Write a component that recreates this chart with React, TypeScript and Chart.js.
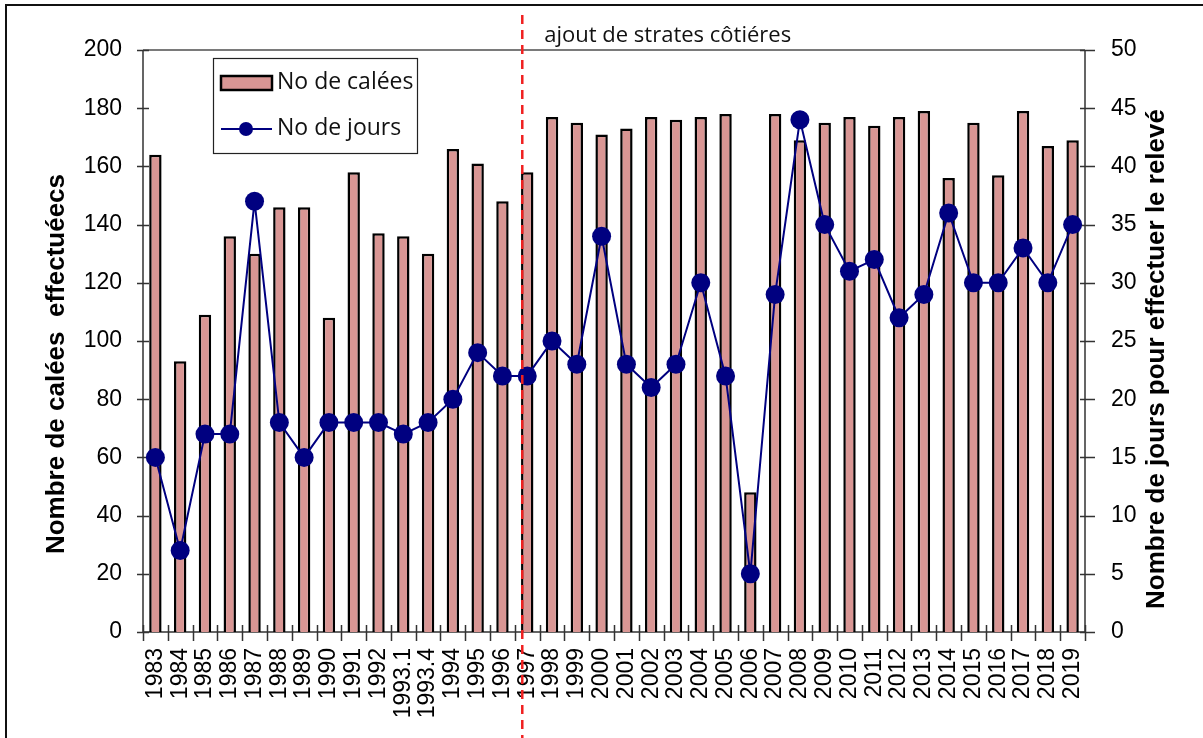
import { useEffect, useRef } from "react";
import { Chart, registerables } from "chart.js";

Chart.register(...registerables);

const categories = [
  "1983", "1984", "1985", "1986", "1987", "1988", "1989", "1990", "1991", "1992",
  "1993.1", "1993.4", "1994", "1995", "1996", "1997", "1998", "1999", "2000", "2001",
  "2002", "2003", "2004", "2005", "2006", "2007", "2008", "2009", "2010", "2011",
  "2012", "2013", "2014", "2015", "2016", "2017", "2018", "2019",
];

const caleesValues = [
  164, 93, 109, 136, 130, 146, 146, 108, 158, 137,
  136, 130, 166, 161, 148, 158, 177, 175, 171, 173,
  177, 176, 177, 178, 48, 178, 169, 175, 177, 174,
  177, 179, 156, 175, 157, 179, 167, 169,
];

const joursValues = [
  15, 7, 17, 17, 37, 18, 15, 18, 18, 18,
  17, 18, 20, 24, 22, 22, 25, 23, 34, 23,
  21, 23, 30, 22, 5, 29, 44, 35, 31, 32,
  27, 29, 36, 30, 30, 33, 30, 35,
];

const leftAxisRange = [0, 200];
const leftAxisStep = 20;
const rightAxisRange = [0, 50];
const rightAxisStep = 5;

const barLabel = "No de calées";
const lineLabel = "No de jours";
const leftTitle = "Nombre de calées  effectuéecs";
const rightTitle = "Nombre de jours pour effectuer le relevé";
const annotationText = "ajout de strates côtiéres";
const annotationIndex = 14.8;

const BAR_FILL = "#D99694";
const LINE_COLOR = "#000080";
const TICK_FONT = "'Liberation Sans', Arial, sans-serif";
const NARROW_FONT = "'Liberation Sans Narrow', 'Liberation Sans', Arial, sans-serif";
const LEGEND_FONT = "'Open Sans', 'Noto Sans', sans-serif";

const decorPlugin = {
  id: "decor",
  beforeDatasetsDraw(chart: any) {
    const { ctx, chartArea: a, scales } = chart;
    const w = chart.width;
    const h = chart.height;
    ctx.save();
    // outer frame (left + top)
    ctx.strokeStyle = "#111";
    ctx.lineWidth = 2;
    ctx.beginPath();
    ctx.moveTo(6, h);
    ctx.lineTo(6, 5);
    ctx.lineTo(w, 5);
    ctx.stroke();

    // top border of plot
    ctx.strokeStyle = "#7a7a7a";
    ctx.lineWidth = 2;
    ctx.beginPath();
    ctx.moveTo(a.left, a.top);
    ctx.lineTo(a.right, a.top);
    ctx.stroke();

    // axes
    ctx.strokeStyle = "#333";
    ctx.lineWidth = 1.5;
    ctx.beginPath();
    ctx.moveTo(a.left, a.top);
    ctx.lineTo(a.left, a.bottom);
    ctx.lineTo(a.right, a.bottom);
    ctx.lineTo(a.right, a.top);
    ctx.stroke();

    // ticks
    ctx.beginPath();
    for (const t of scales.y.ticks) {
      const y = Math.round(scales.y.getPixelForValue(t.value)) + 0.5;
      ctx.moveTo(a.left - 6, y);
      ctx.lineTo(a.left + 6, y);
    }
    for (const t of scales.y1.ticks) {
      const y = Math.round(scales.y1.getPixelForValue(t.value)) + 0.5;
      ctx.moveTo(a.right - 5, y);
      ctx.lineTo(a.right + 10, y);
    }
    for (let i = 0; i <= categories.length; i++) {
      const x = Math.round(scales.x.getPixelForValue(i - 0.5)) + 0.5;
      ctx.moveTo(x, a.bottom - 7);
      ctx.lineTo(x, a.bottom + 9);
    }
    ctx.stroke();
    ctx.restore();
  },
  afterDatasetsDraw(chart: any) {
    const { ctx, chartArea: a, scales } = chart;
    ctx.save();
    const x = scales.x.getPixelForValue(annotationIndex);
    ctx.strokeStyle = "#F02020";
    ctx.lineWidth = 2.5;
    ctx.setLineDash([9, 6]);
    ctx.beginPath();
    ctx.moveTo(x, 15);
    ctx.lineTo(x, chart.height);
    ctx.stroke();
    ctx.setLineDash([]);
    ctx.fillStyle = "#111";
    ctx.font = `22px ${LEGEND_FONT}`;
    ctx.textAlign = "left";
    ctx.textBaseline = "middle";
    ctx.fillText(annotationText, x + 22, a.top - 14);
    ctx.restore();
  },
  afterDraw(chart: any) {
    const { ctx, chartArea: a } = chart;
    ctx.save();
    // legend
    const lx = a.left + 70;
    const ly = a.top + 8;
    ctx.fillStyle = "#fff";
    ctx.fillRect(lx, ly, 204, 95);
    ctx.strokeStyle = "#222";
    ctx.lineWidth = 1.2;
    ctx.strokeRect(lx + 0.5, ly + 0.5, 204, 95);
    ctx.fillStyle = BAR_FILL;
    ctx.fillRect(lx + 8, ly + 18, 51, 14);
    ctx.strokeStyle = "#000";
    ctx.lineWidth = 2.5;
    ctx.strokeRect(lx + 8, ly + 18, 51, 14);
    ctx.strokeStyle = LINE_COLOR;
    ctx.lineWidth = 2;
    ctx.beginPath();
    ctx.moveTo(lx + 8, ly + 71);
    ctx.lineTo(lx + 59, ly + 71);
    ctx.stroke();
    ctx.fillStyle = LINE_COLOR;
    ctx.beginPath();
    ctx.arc(lx + 33, ly + 71, 7, 0, Math.PI * 2);
    ctx.fill();
    ctx.fillStyle = "#111";
    ctx.font = `23px ${LEGEND_FONT}`;
    ctx.textAlign = "left";
    ctx.textBaseline = "middle";
    ctx.fillText(barLabel, lx + 64, ly + 24);
    ctx.fillText(lineLabel, lx + 64, ly + 70);

    // axis titles
    ctx.fillStyle = "#000";
    ctx.font = `bold 26px ${TICK_FONT}`;
    ctx.textAlign = "center";
    ctx.textBaseline = "middle";
    ctx.save();
    ctx.translate(a.left - 86, a.top + 314);
    ctx.rotate(-Math.PI / 2);
    ctx.fillText(leftTitle, 0, 0);
    ctx.restore();
    ctx.save();
    ctx.translate(a.right + 72, a.top + 309);
    ctx.rotate(-Math.PI / 2);
    ctx.fillText(rightTitle, 0, 0);
    ctx.restore();
    ctx.restore();
  },
};

export default function App() {
  const canvasRef = useRef<HTMLCanvasElement | null>(null);

  useEffect(() => {
    if (!canvasRef.current) return;
    const chart = new Chart(canvasRef.current, {
      type: "bar",
      data: {
        labels: categories,
        datasets: [
          {
            type: "bar",
            label: barLabel,
            data: caleesValues,
            yAxisID: "y",
            backgroundColor: BAR_FILL,
            borderColor: "#000",
            borderWidth: 2.5,
            barPercentage: 0.5,
            categoryPercentage: 1.0,
            order: 2,
          },
          {
            type: "line",
            label: lineLabel,
            data: joursValues,
            yAxisID: "y1",
            borderColor: LINE_COLOR,
            backgroundColor: LINE_COLOR,
            borderWidth: 2,
            pointRadius: 9.5,
            pointBackgroundColor: LINE_COLOR,
            pointBorderWidth: 0,
            tension: 0,
            order: 1,
          } as any,
        ],
      },
      options: {
        responsive: false,
        animation: false,
        devicePixelRatio: 1,
        events: [],
        layout: { padding: { top: 50, left: 0, right: 0, bottom: 0 } },
        plugins: {
          legend: { display: false },
          tooltip: { enabled: false },
        },
        scales: {
          x: {
            offset: true,
            grid: { display: false, drawTicks: false },
            border: { display: false },
            ticks: {
              autoSkip: false,
              minRotation: 90,
              maxRotation: 90,
              padding: 16,
              color: "#000",
              font: { family: NARROW_FONT, size: 23 },
            },
            afterFit: (s: any) => {
              s.height = 106;
            },
          },
          y: {
            position: "left",
            min: leftAxisRange[0],
            max: leftAxisRange[1],
            grid: { display: false, drawTicks: false },
            border: { display: false },
            ticks: {
              stepSize: leftAxisStep,
              padding: 21,
              color: "#000",
              font: { family: TICK_FONT, size: 23 },
            },
            afterFit: (s: any) => {
              s.width = 143;
            },
          },
          y1: {
            position: "right",
            min: rightAxisRange[0],
            max: rightAxisRange[1],
            grid: { display: false, drawTicks: false },
            border: { display: false },
            ticks: {
              stepSize: rightAxisStep,
              padding: 26,
              color: "#000",
              font: { family: TICK_FONT, size: 23 },
            },
            afterFit: (s: any) => {
              s.width = 118;
            },
          },
        },
      },
      plugins: [decorPlugin],
    });
    return () => chart.destroy();
  }, []);

  return (
    <div style={{ position: "absolute", left: 0, top: 0, width: 1203, height: 738, background: "#fff" }}>
      <canvas ref={canvasRef} width={1203} height={738} style={{ display: "block" }} />
    </div>
  );
}
